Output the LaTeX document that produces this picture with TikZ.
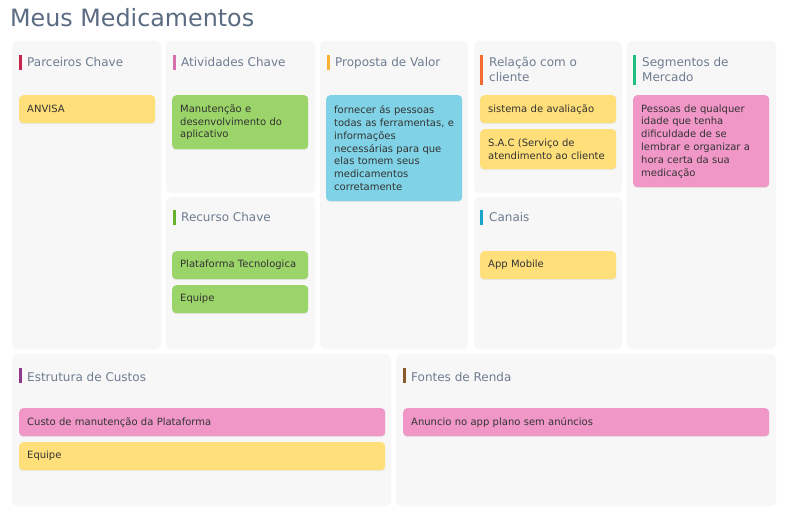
\documentclass[tikz,border=0pt]{standalone}
\usepackage{fontspec}
\setmainfont{DejaVu Sans}
\usetikzlibrary{shadows}
\definecolor{paneltint}{HTML}{F7F7F7}
\definecolor{titlecol}{HTML}{5B6B82}
\definecolor{headcol}{HTML}{6E7C90}
\definecolor{cardtext}{HTML}{333333}
\definecolor{cyellow}{HTML}{FFDF7A}
\definecolor{cgreen}{HTML}{9BD468}
\definecolor{ccyan}{HTML}{80D3E6}
\definecolor{cpink}{HTML}{F097C8}
\definecolor{bcrimson}{HTML}{C7254E}
\definecolor{bpink}{HTML}{D670AC}
\definecolor{bamber}{HTML}{F9B233}
\definecolor{borange}{HTML}{F26B30}
\definecolor{bgreen}{HTML}{1FBF7F}
\definecolor{blime}{HTML}{66B22E}
\definecolor{bcyan}{HTML}{1AA5C8}
\definecolor{bpurple}{HTML}{8E3A8A}
\definecolor{bbrown}{HTML}{8A5A2F}
\tikzset{
  panelbox/.style={fill=paneltint, draw=none, rounded corners=5pt},
  headbar/.style={fill=#1, draw=none},
  headtext/.style={anchor=base west, inner sep=0pt, text=headcol, font=\fontsize{12}{15}\selectfont, align=left},
  card/.style={anchor=north west, fill=#1, draw=none, rounded corners=4pt, inner xsep=8pt, inner ysep=0pt,
    align=left, text=cardtext, font=\fontsize{10}{12.8}\selectfont,
    drop shadow={opacity=0.12, shadow xshift=0pt, shadow yshift=-1pt}},
}
\begin{document}
\begin{tikzpicture}[x=1pt,y=-1pt]
\useasboundingbox[fill=white] (0,0) rectangle (786,518);
% title
\node[anchor=base west, inner sep=0pt, text=titlecol, font=\fontsize{23.8}{28}\selectfont] (title) at (10,27) {Meus Medicamentos};
% panels
\fill[panelbox] (12,41) rectangle (161,349);
\fill[panelbox] (166,41) rectangle (315,193);
\fill[panelbox] (166,197) rectangle (315,349);
\fill[panelbox] (320,41) rectangle (468,349);
\fill[panelbox] (474,41) rectangle (622,193);
\fill[panelbox] (474,197) rectangle (622,349);
\fill[panelbox] (627,41) rectangle (776,349);
\fill[panelbox] (12,354) rectangle (391,506);
\fill[panelbox] (396,354) rectangle (776,506);
% header bars
\fill[headbar=bcrimson] (19,55) rectangle (22,70);
\fill[headbar=bpink] (173,55) rectangle (176,70);
\fill[headbar=bamber] (327,55) rectangle (330,70);
\fill[headbar=borange] (480,55) rectangle (483,85);
\fill[headbar=bgreen] (633,55) rectangle (636,85);
\fill[headbar=blime] (173,210) rectangle (176,225);
\fill[headbar=bcyan] (480,210) rectangle (483,225);
\fill[headbar=bpurple] (19,368) rectangle (22,383);
\fill[headbar=bbrown] (403,368) rectangle (406,383);
% header texts
\node[headtext] (hpar) at (27,67) {Parceiros Chave};
\node[headtext] (hati) at (181,67) {Atividades Chave};
\node[headtext] (hpro) at (335,67) {Proposta de Valor};
\node[headtext] (hrel) at (489,82) {Relação com o\\cliente};
\node[headtext] (hseg) at (642,82) {Segmentos de\\Mercado};
\node[headtext] (hrec) at (181,222) {Recurso Chave};
\node[headtext] (hcan) at (489,222) {Canais};
\node[headtext] (hest) at (27,381) {Estrutura de Custos};
\node[headtext] (hfon) at (411,381) {Fontes de Renda};
% cards
\node[card=cyellow, text width=120pt, minimum height=28pt] (anvisa) at (19,95) {ANVISA};
\node[card=cgreen, text width=120pt, minimum height=54pt] (manut) at (172,95) {Manutenção e\\desenvolvimento do\\aplicativo};
\node[card=cgreen, text width=120pt, minimum height=28pt] (plat) at (172,251) {Plataforma Tecnologica};
\node[card=cgreen, text width=120pt, minimum height=28pt] (equipe1) at (172,285) {Equipe};
\node[card=ccyan, text width=120pt, minimum height=106pt] (prop) at (326,95) {fornecer ás pessoas\\todas as ferramentas, e\\informações\\necessárias para que\\elas tomem seus\\medicamentos\\corretamente};
\node[card=cyellow, text width=120pt, minimum height=28pt] (aval) at (480,95) {sistema de avaliação};
\node[card=cyellow, text width=120pt, minimum height=40pt] (sac) at (480,129) {S.A.C (Serviço de\\atendimento ao cliente};
\node[card=cyellow, text width=120pt, minimum height=28pt] (app) at (480,251) {App Mobile};
\node[card=cpink, text width=120pt, minimum height=92pt] (pess) at (633,95) {Pessoas de qualquer\\idade que tenha\\dificuldade de se\\lembrar e organizar a\\hora certa da sua\\medicação};
\node[card=cpink, text width=350pt, minimum height=28pt] (custo) at (19,408) {Custo de manutenção da Plataforma};
\node[card=cyellow, text width=350pt, minimum height=28pt] (equipe2) at (19,442) {Equipe};
\node[card=cpink, text width=350pt, minimum height=28pt] (anun) at (403,408) {Anuncio no app plano sem anúncios};
\end{tikzpicture}
\end{document}
